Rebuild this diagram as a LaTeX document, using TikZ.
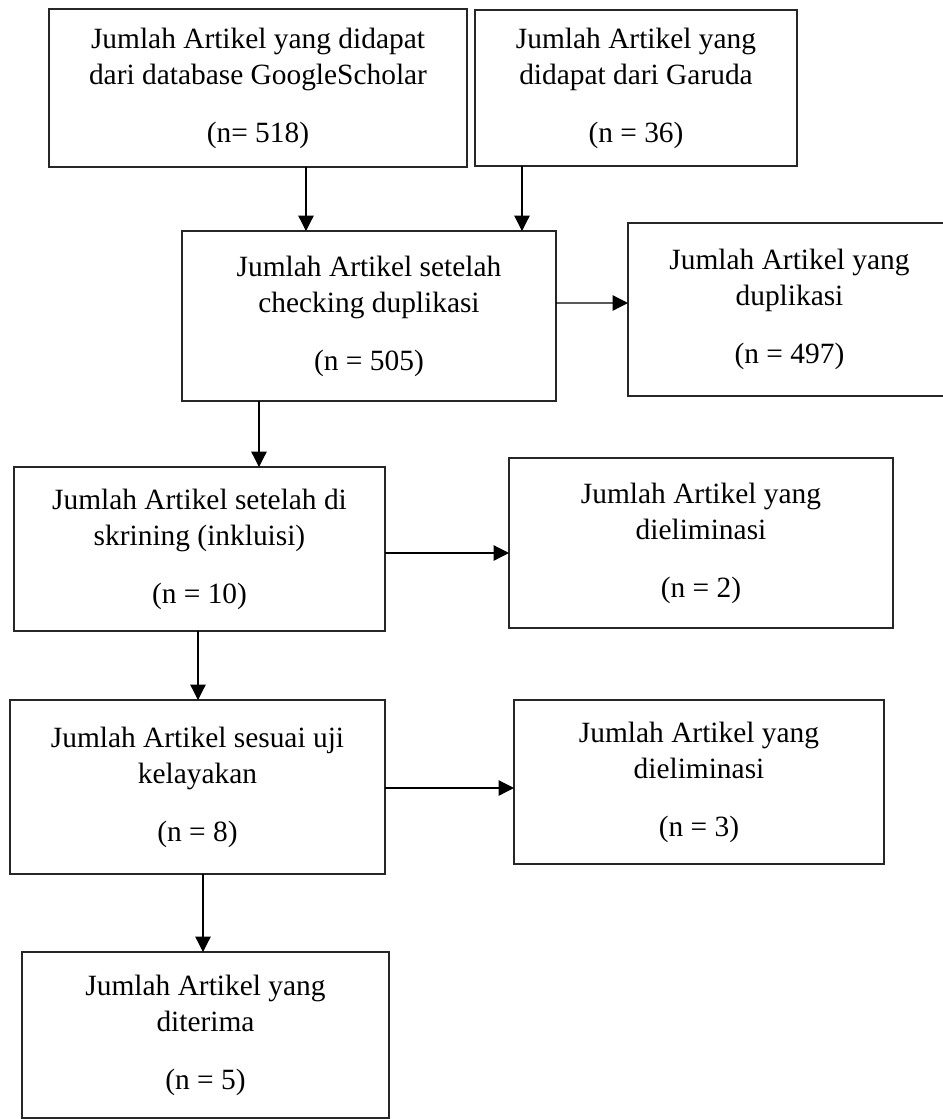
\documentclass[tikz,border=0pt]{standalone}
\usepackage{fontspec}
\setmainfont{Liberation Serif}
\usetikzlibrary{arrows.meta}
\tikzset{
  txt/.style={rectangle, align=center, inner sep=0pt, outer sep=0pt,
    font=\fontsize{11.76pt}{14.4pt}\selectfont},
  box/.style={txt, draw=black!85, line width=0.5pt},
  >={Triangle[width=6.2pt,length=6.2pt]}
}
\begin{document}
\begin{tikzpicture}
  \useasboundingbox (0,0) rectangle (377.2pt,-447.6pt);
  \node (gs) [box, minimum width=167.2pt, minimum height=63.2pt] at (103.2pt,-35.2pt)
    {Jumlah Artikel yang didapat\\dari database GoogleScholar\\[8.8pt](n= 518)};
  \node (gar) [box, right of=gs, node distance=151.2pt, minimum width=128.8pt, minimum height=62.4pt]
    {Jumlah Artikel yang\\didapat dari Garuda\\[8.8pt](n = 36)};
  \node (cek) [box, below of=gs, node distance=91.2pt, xshift=44.4pt, minimum width=149.6pt, minimum height=68pt]
    {Jumlah Artikel setelah\\checking duplikasi\\[8.8pt](n = 505)};
  \node (dup) [txt, right of=cek, node distance=168.2pt, yshift=2.6pt, minimum width=129.2pt, minimum height=69.2pt]
    {Jumlah Artikel yang\\duplikasi\\[8.8pt](n = 497)};
  \node (skr) [box, below of=cek, node distance=93.2pt, xshift=-67.8pt, minimum width=148.4pt, minimum height=65.6pt]
    {Jumlah Artikel setelah di\\skrining (inkluisi)\\[8.8pt](n = 10)};
  \node (el1) [box, right of=skr, node distance=200.6pt, yshift=2.4pt, minimum width=153.6pt, minimum height=68pt]
    {Jumlah Artikel yang\\dieliminasi\\[8.8pt](n = 2)};
  \node (lay) [box, below of=skr, node distance=95.2pt, xshift=-0.8pt, minimum width=150pt, minimum height=69.6pt]
    {Jumlah Artikel sesuai uji\\kelayakan\\[8.8pt](n = 8)};
  \node (el2) [box, right of=lay, node distance=200.6pt, yshift=2pt, minimum width=148pt, minimum height=65.6pt]
    {Jumlah Artikel yang\\dieliminasi\\[8.8pt](n = 3)};
  \node (ter) [box, below of=lay, node distance=99.2pt, xshift=3.2pt, minimum width=146.8pt, minimum height=66.4pt]
    {Jumlah Artikel yang\\diterima\\[8.8pt](n = 5)};
  \draw[draw=black!85, line width=0.5pt] (dup.north east) -- (dup.north west) -- (dup.south west) -- (dup.south east);
  \path[->, line width=0.5pt]
    ([xshift=19.2pt]gs.south) edge ([xshift=-25.2pt]cek.north)
    ([xshift=-45.6pt]gar.south) edge ([xshift=61.2pt]cek.north)
    ([yshift=5.2pt]cek.east) edge ([yshift=2.6pt]dup.west)
    ([xshift=-44pt]cek.south) edge ([xshift=23.8pt]skr.north)
    ([yshift=-1.6pt]skr.east) edge ([yshift=-4pt]el1.west)
    ([xshift=-0.6pt]skr.south) edge ([xshift=0.2pt]lay.north)
    ([yshift=-0.4pt]lay.east) edge ([yshift=-2.4pt]el2.west)
    ([xshift=2.2pt]lay.south) edge ([xshift=-1pt]ter.north)
    ;
\end{tikzpicture}
\end{document}
